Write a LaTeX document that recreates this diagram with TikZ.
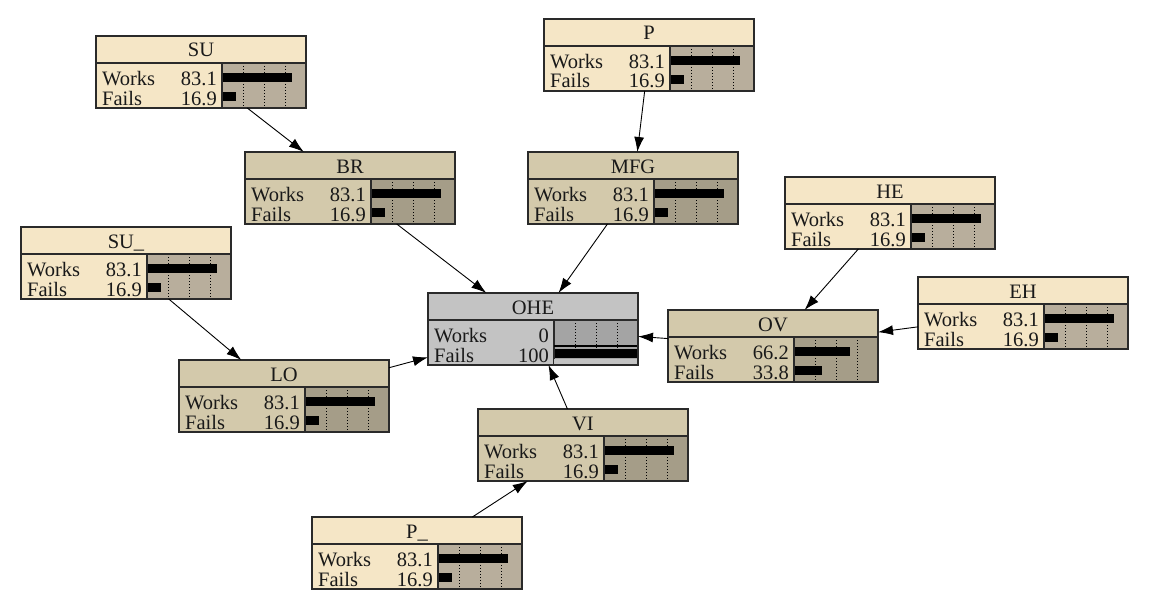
\documentclass[tikz,border=0pt]{standalone}
\usepackage{fontspec}
\setmainfont{Liberation Serif}
\usetikzlibrary{arrows.meta}
\definecolor{lightfill}{HTML}{F5E6C6}
\definecolor{lightbar}{HTML}{B8AE9C}
\definecolor{midfill}{HTML}{D3C9AB}
\definecolor{midbar}{HTML}{A59D88}
\definecolor{grayfill}{HTML}{C3C3C3}
\definecolor{graybar}{HTML}{A4A4A4}
\definecolor{edgecol}{HTML}{2A2A2A}
\tikzset{
  bnframe/.style={draw=edgecol, line width=1.3pt, minimum width=210pt, minimum height=72pt, inner sep=0pt, outer sep=0pt},
  bntext/.style={font=\fontsize{20.5}{23}\selectfont, inner sep=0pt, text=black!90},
  bnbar/.style={fill=black},
  bngrid/.style={dash pattern=on 1.2pt off 1.8pt, line width=0.9pt, black},
  link/.style={draw=black, line width=0.9pt, -{Latex[length=15pt,width=10pt]}}
}
\newcommand{\bnbox}[7]{%
  \node[bnframe, fill=#7fill] (#1) at (#2+105,#3+36) {};
  \fill[#7bar] (#2+126,#3+27) rectangle (#2+210,#3+72);
  \pgfmathsetmacro\wlen{0.84*#5}%
  \pgfmathsetmacro\flen{0.84*#6}%
  \fill[bnbar] (#2+126,#3+37) rectangle (#2+126+\wlen,#3+46);
  \fill[bnbar] (#2+126,#3+56) rectangle (#2+126+\flen,#3+65);
  \foreach \k in {21,42,63} {\draw[bngrid] (#2+126+\k,#3+27) -- (#2+126+\k,#3+72);}
  \draw[edgecol, line width=1.3pt] (#2,#3+27) -- (#2+210,#3+27);
  \draw[edgecol, line width=1.3pt] (#2+126,#3+27) -- (#2+126,#3+72);
  \draw[edgecol, line width=1.3pt] (#2,#3) rectangle (#2+210,#3+72);
  \node[bntext, anchor=base] (#1-t) at (#2+105,#3+21) {#4};
  \node[bntext, anchor=base west] (#1-w) at (#2+6,#3+49) {Works};
  \node[bntext, anchor=base east] (#1-wv) at (#2+121,#3+49) {#5};
  \node[bntext, anchor=base west] (#1-f) at (#2+6,#3+69) {Fails};
  \node[bntext, anchor=base east] (#1-fv) at (#2+121,#3+69) {#6};
}
\begin{document}
\begin{tikzpicture}[x=1pt,y=-1pt]
\useasboundingbox (0,0) rectangle (1151,594);
\fill[white] (0,0) rectangle (1151,594);
\bnbox{SU}{96}{36}{SU}{83.1}{16.9}{light}
\bnbox{P}{544}{19}{P}{83.1}{16.9}{light}
\bnbox{BR}{245}{152}{BR}{83.1}{16.9}{mid}
\bnbox{MFG}{528}{152}{MFG}{83.1}{16.9}{mid}
\bnbox{HE}{785}{177}{HE}{83.1}{16.9}{light}
\bnbox{SUb}{21}{227}{SU\_}{83.1}{16.9}{light}
\bnbox{EH}{918}{277}{EH}{83.1}{16.9}{light}
\bnbox{OHE}{428}{293}{OHE}{0}{100}{gray}
\fill[black] (554,52+293) rectangle (638,54+293);
\fill[grayfill] (554,66+293) rectangle (638,71+293);
\draw[edgecol, line width=1.3pt] (428,293) rectangle (638,365);
\bnbox{OV}{668}{310}{OV}{66.2}{33.8}{mid}
\bnbox{LO}{179}{360}{LO}{83.1}{16.9}{mid}
\bnbox{VI}{478}{409}{VI}{83.1}{16.9}{mid}
\bnbox{Pb}{312}{517}{P\_}{83.1}{16.9}{light}
\draw[link] (SU) -- (BR);
\draw[link] (P) -- (MFG);
\draw[link] (BR) -- (OHE);
\draw[link] (MFG) -- (OHE);
\draw[link] (SUb) -- (LO);
\draw[link] (LO) -- (OHE);
\draw[link] (HE) -- (OV);
\draw[link] (EH) -- (OV);
\draw[link] (OV) -- (OHE);
\draw[link] (VI) -- (OHE);
\draw[link] (Pb) -- (VI);
\end{tikzpicture}
\end{document}
